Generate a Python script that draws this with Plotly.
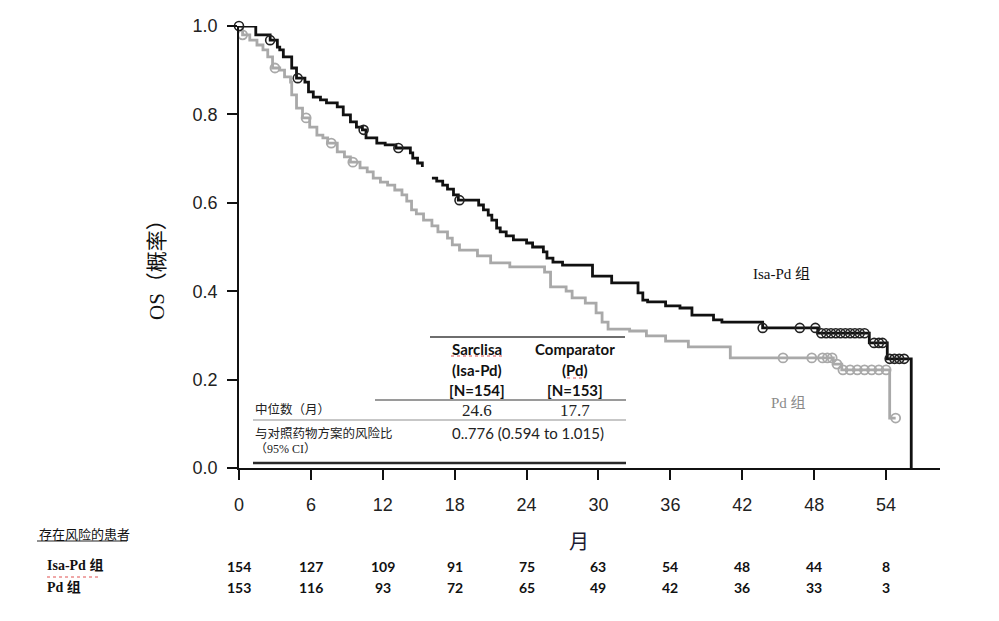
import plotly.graph_objects as go

# ---------------- data ----------------
months_ticks = [0, 6, 12, 18, 24, 30, 36, 42, 48, 54]
y_ticks = [0.0, 0.2, 0.4, 0.6, 0.8, 1.0]
y_tick_text = ["0.0", "0.2", "0.4", "0.6", "0.8", "1.0"]

# Isa-Pd (black) KM step curve (None = break seen in source image)
isa_t = [0, 1.4, 2.6, 3.2, 3.4, 3.7, 4.4, 4.8, 5.5, 5.8, 6.2, 6.8, 7.3, 8.2, 8.7, 9.3, 9.8,
         10.3, 10.6, 11.5, 12.2, 13.1, 14.3, 14.5, 14.9, 15.3, None,
         16.1, 16.5, 17.0, 17.4, 17.9, 18.3, 20.0, 20.4, 20.8, 21.1, 21.5, 21.8, 22.3, 22.9,
         24.0, 24.5, 25.4, 25.7, 26.2, 27.0, 29.5, 31.1, 33.3, 33.7, 34.1, 35.6, 36.8,
         37.8, 39.6, 40.3, 43.7, 48.3, 52.6, 54.1, 56.1]
isa_s = [1.0, 0.98, 0.968, 0.952, 0.946, 0.930, 0.905, 0.882, 0.873, 0.851, 0.839, 0.833, 0.826,
         0.817, 0.799, 0.783, 0.771, 0.765, 0.747, 0.735, 0.731, 0.724, 0.713, 0.701, 0.690,
         0.681, None,
         0.656, 0.649, 0.640, 0.631, 0.618, 0.606, 0.595, 0.584, 0.572, 0.561, 0.543, 0.534,
         0.525, 0.516, 0.509, 0.500, 0.489, 0.475, 0.466, 0.459, 0.434, 0.419, 0.396, 0.380,
         0.376, 0.367, 0.362, 0.346, 0.335, 0.330, 0.317, 0.305, 0.283, 0.247, 0.0]
isa_cens_t = [0, 2.6, 4.9, 10.4, 13.3, 18.4, 43.7, 46.8, 48.1,
              48.6, 49.0, 49.4, 49.8, 50.2, 50.6, 51.0, 51.4, 51.8, 52.2,
              53.0, 53.4, 53.7, 54.3, 54.7, 55.1, 55.5]
isa_cens_s = [1.0, 0.968, 0.882, 0.765, 0.724, 0.606, 0.317, 0.317, 0.317,
              0.305, 0.305, 0.305, 0.305, 0.305, 0.305, 0.305, 0.305, 0.305, 0.305,
              0.283, 0.283, 0.283, 0.247, 0.247, 0.247, 0.247]

# Pd (grey) KM step curve
pd_t = [0, 0.3, 0.9, 1.5, 2.0, 2.4, 2.8, 3.4, 3.8, 4.3, 4.4, 4.8, 5.3, 5.9, 6.5, 7.0, 7.4, 8.2,
        8.8, 9.3, 10.1, 10.7, 11.2, 11.8, 12.4, 13.0, 13.6, 14.0, 14.4, 14.8, 15.4, 16.1, 16.6,
        17.4, 17.8, 18.4, 19.9, 21.0, 22.6, 25.5, 26.0, 27.3, 27.8, 28.9, 29.8, 30.3, 30.8,
        32.6, 34.0, 35.6, 37.5, 41.0, 49.6, 50.3, 54.3, 54.8]
pd_s = [1.0, 0.980, 0.968, 0.957, 0.946, 0.930, 0.905, 0.900, 0.885, 0.873, 0.844, 0.814, 0.792,
        0.771, 0.753, 0.747, 0.735, 0.715, 0.704, 0.692, 0.679, 0.670, 0.656, 0.647, 0.640,
        0.629, 0.618, 0.604, 0.584, 0.575, 0.561, 0.548, 0.534, 0.520, 0.505, 0.493, 0.480,
        0.464, 0.455, 0.443, 0.410, 0.400, 0.385, 0.373, 0.351, 0.330, 0.314, 0.310, 0.299,
        0.287, 0.274, 0.249, 0.235, 0.222, 0.113, 0.113]
pd_cens_t = [0.3, 3.0, 5.6, 7.7, 9.5, 45.4, 47.8, 48.7, 49.1, 49.5, 49.9,
             50.4, 51.0, 51.6, 52.2, 52.8, 53.4, 54.0, 54.8]
pd_cens_s = [0.980, 0.905, 0.792, 0.735, 0.692, 0.249, 0.249, 0.249, 0.249, 0.249, 0.235,
             0.222, 0.222, 0.222, 0.222, 0.222, 0.222, 0.222, 0.113]

risk_isa = [154, 127, 109, 91, 75, 63, 54, 48, 44, 8]
risk_pd = [153, 116, 93, 72, 65, 49, 42, 36, 33, 3]

# summary table text
hdr_isa = ["Sarclisa", "(Isa-Pd)", "[N=154]"]
hdr_pd = ["Comparator", "(Pd)", "[N=153]"]
median_label = "中位数（月）"
median_isa = "24.6"
median_pd = "17.7"
hr_label = "与对照药物方案的风险比"
hr_label2 = "（95% CI）"
hr_value = "0..776 (0.594 to 1.015)"

# ---------------- layout helpers (pixel -> paper) ----------------
W, H = 999, 621
L, R, T, B = 239, 59, 26, 153
PW, PH = W - L - R, H - T - B


def px(x):
    return (x - L) / PW


def py(y):
    return (H - B - y) / PH


BLACK = "#111111"
GREY = "#a9a9a9"

fig = go.Figure()
fig.add_trace(go.Scatter(x=pd_t, y=pd_s, mode="lines", line=dict(color=GREY, width=2.8, shape="hv"),
                         connectgaps=False, cliponaxis=False, hoverinfo="skip"))
fig.add_trace(go.Scatter(x=pd_cens_t, y=pd_cens_s, mode="markers",
                         marker=dict(symbol="circle-open", size=9, color=GREY, line=dict(width=1.8)),
                         cliponaxis=False, hoverinfo="skip"))
fig.add_trace(go.Scatter(x=isa_t, y=isa_s, mode="lines", line=dict(color=BLACK, width=2.8, shape="hv"),
                         connectgaps=False, cliponaxis=False, hoverinfo="skip"))
fig.add_trace(go.Scatter(x=isa_cens_t, y=isa_cens_s, mode="markers",
                         marker=dict(symbol="circle-open", size=9, color="#222222", line=dict(width=1.6)),
                         cliponaxis=False, hoverinfo="skip"))

ann = []
tick_font = dict(family="Liberation Sans, Arial, sans-serif", size=18, color="#222222")

# axis titles
ann.append(dict(x=px(157), y=py(265), xref="paper", yref="paper", text="OS（概率）", textangle=-90,
                showarrow=False, font=dict(family="Liberation Serif, Noto Sans CJK SC", size=21, color="#111111"),
                xanchor="center", yanchor="middle"))
ann.append(dict(x=px(579), y=py(540), xref="paper", yref="paper", text="月", showarrow=False,
                font=dict(family="Noto Sans CJK SC", size=20, color="#1a1a33"), xanchor="center", yanchor="middle"))

# curve labels
ann.append(dict(x=px(781), y=py(274), xref="paper", yref="paper", text="Isa-Pd 组", showarrow=False,
                font=dict(family="Liberation Serif, Noto Sans CJK SC", size=15, color="#111111"),
                xanchor="center", yanchor="middle"))
ann.append(dict(x=px(788), y=py(403), xref="paper", yref="paper", text="Pd 组", showarrow=False,
                font=dict(family="Liberation Serif, Noto Sans CJK SC", size=15, color="#8a8a8a"),
                xanchor="center", yanchor="middle"))

# summary table
hdr_font = dict(family="Lato, Open Sans, sans-serif", size=15, color="#111111")
for i, (a, b) in enumerate(zip(hdr_isa, hdr_pd)):
    yy = py(349 + 20.5 * i)
    ann.append(dict(x=px(477), y=yy, xref="paper", yref="paper", text="<b>%s</b>" % a, showarrow=False,
                    font=hdr_font, xanchor="center", yanchor="middle"))
    ann.append(dict(x=px(575), y=yy, xref="paper", yref="paper", text="<b>%s</b>" % b, showarrow=False,
                    font=hdr_font, xanchor="center", yanchor="middle"))
cjk_small = dict(family="Noto Sans CJK SC", size=12.5, color="#222222")
ann.append(dict(x=px(253), y=py(408), xref="paper", yref="paper", text=median_label, showarrow=False,
                font=cjk_small, xanchor="left", yanchor="middle"))
ann.append(dict(x=px(477), y=py(410), xref="paper", yref="paper", text=median_isa, showarrow=False,
                font=dict(family="Liberation Serif, serif", size=17, color="#222222"), xanchor="center", yanchor="middle"))
ann.append(dict(x=px(575), y=py(410), xref="paper", yref="paper", text=median_pd, showarrow=False,
                font=dict(family="Liberation Serif, serif", size=17, color="#222222"), xanchor="center", yanchor="middle"))
ann.append(dict(x=px(253), y=py(432), xref="paper", yref="paper", text=hr_label, showarrow=False,
                font=cjk_small, xanchor="left", yanchor="middle"))
ann.append(dict(x=px(253), y=py(449), xref="paper", yref="paper", text=hr_label2, showarrow=False,
                font=dict(family="Liberation Serif, Noto Sans CJK SC", size=12, color="#222222"),
                xanchor="left", yanchor="middle"))
ann.append(dict(x=px(528), y=py(433), xref="paper", yref="paper", text=hr_value, showarrow=False,
                font=dict(family="Lato, Open Sans, sans-serif", size=15, color="#222222"),
                xanchor="center", yanchor="middle"))

# number at risk
ann.append(dict(x=px(37), y=py(533), xref="paper", yref="paper", text="存在风险的患者", showarrow=False,
                font=dict(family="Noto Sans CJK SC", size=13, color="#111111"), xanchor="left", yanchor="middle"))
row_font = dict(family="Liberation Serif, Noto Sans CJK SC", size=14, color="#111111")
ann.append(dict(x=px(45), y=py(565), xref="paper", yref="paper", text="<b>Isa-Pd 组</b>", showarrow=False,
                font=row_font, xanchor="left", yanchor="middle"))
ann.append(dict(x=px(45), y=py(587), xref="paper", yref="paper", text="<b>Pd 组</b>", showarrow=False,
                font=row_font, xanchor="left", yanchor="middle"))
num_font = dict(family="Lato, Open Sans, sans-serif", size=14, color="#111111")
for m, a, b in zip(months_ticks, risk_isa, risk_pd):
    ann.append(dict(x=m, y=py(566), xref="x", yref="paper", text="<b>%d</b>" % a, showarrow=False,
                    font=num_font, xanchor="center", yanchor="middle"))
    ann.append(dict(x=m, y=py(587), xref="x", yref="paper", text="<b>%d</b>" % b, showarrow=False,
                    font=num_font, xanchor="center", yanchor="middle"))

shapes = []


def hline(x0, x1, y, color, width, dash="solid"):
    shapes.append(dict(type="line", xref="paper", yref="paper", x0=px(x0), x1=px(x1), y0=py(y), y1=py(y),
                       line=dict(color=color, width=width, dash=dash)))


hline(430, 625, 337, "#6e6e6e", 2)
hline(375, 626, 400, "#9a9a9a", 2)
hline(253, 626, 420, "#b5b5b5", 1.5)
hline(253, 626, 463, "#2a2a2a", 2.5)
# underline of risk-table header
hline(37, 127, 541, "#222222", 1)
# spell-check squiggles as in source
hline(451, 503, 356, "#e05050", 1, "dot")
hline(567, 583, 378, "#e05050", 1, "dot")
hline(47, 98, 577, "#e05050", 1, "dot")

fig.update_layout(
    width=W, height=H, margin=dict(l=L, r=R, t=T, b=B),
    paper_bgcolor="white", plot_bgcolor="white", showlegend=False,
    annotations=ann, shapes=shapes,
    xaxis=dict(range=[0, 58.5], tickvals=months_ticks, ticktext=[str(m) for m in months_ticks],
               showline=True, linecolor="#111111", linewidth=1.5, ticks="outside", ticklen=10,
               tickcolor="#111111", tickwidth=1.5, showgrid=False, zeroline=False, tickfont=tick_font,
               ticklabelstandoff=10),
    yaxis=dict(range=[0, 1.0], tickvals=y_ticks, ticktext=y_tick_text,
               showline=True, linecolor="#111111", linewidth=1.5, ticks="outside", ticklen=10,
               tickcolor="#111111", tickwidth=1.5, showgrid=False, zeroline=False, tickfont=tick_font,
               ticklabelstandoff=6),
)

fig.write_html("out.html")
